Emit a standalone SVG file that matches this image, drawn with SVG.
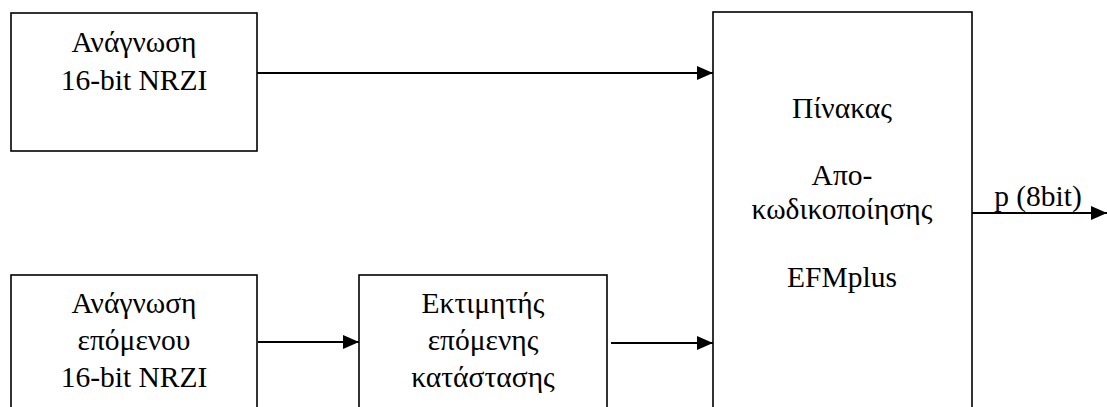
<svg xmlns="http://www.w3.org/2000/svg" width="1107" height="407" viewBox="0 0 1107 407">
<style>
.box{fill:#fff;stroke:#000;stroke-width:1.6}
.wire{stroke:#000;stroke-width:2.2;fill:none}
.lbl{font-family:"Liberation Serif","Times New Roman",serif;font-size:29.5px;text-anchor:middle;fill:#000}
</style>
<defs>
<marker id="ah" markerUnits="userSpaceOnUse" markerWidth="17" markerHeight="16" refX="16" refY="8" orient="auto">
<path d="M0,1 L16,8 L0,15 Z" fill="#000"/>
</marker>
</defs>
<rect width="1107" height="407" fill="#fff"/>
<g id="read16">
<rect class="box" x="11" y="13" width="246" height="138"/>
<text class="lbl" x="134" y="52">Ανάγνωση</text>
<text class="lbl" x="134" y="90">16-bit NRZI</text>
</g>
<g id="readNext">
<rect class="box" x="11" y="275" width="246" height="150"/>
<text class="lbl" x="134" y="313">Ανάγνωση</text>
<text class="lbl" x="134" y="350">επόμενου</text>
<text class="lbl" x="134" y="387">16-bit NRZI</text>
</g>
<g id="estimator">
<rect class="box" x="359" y="275" width="248" height="150"/>
<text class="lbl" x="483" y="313">Εκτιμητής</text>
<text class="lbl" x="483" y="350">επόμενης</text>
<text class="lbl" x="483" y="387">κατάστασης</text>
</g>
<g id="table">
<rect class="box" x="713" y="12" width="259" height="413"/>
<text class="lbl" x="842" y="118">Πίνακας</text>
<text class="lbl" x="842" y="185">Απο-</text>
<text class="lbl" x="842" y="219">κωδικοποίησης</text>
<text class="lbl" x="842" y="287">EFMplus</text>
</g>
<g id="connectors">
<line class="wire" x1="257" y1="73" x2="713" y2="73" marker-end="url(#ah)"/>
<line class="wire" x1="258" y1="342" x2="359" y2="342" marker-end="url(#ah)"/>
<line class="wire" x1="611" y1="343" x2="713" y2="343" marker-end="url(#ah)"/>
<line class="wire" x1="972" y1="213" x2="1107" y2="213" marker-end="url(#ah)"/>
<text class="lbl" x="1038" y="206">p (8bit)</text>
</g>
</svg>
